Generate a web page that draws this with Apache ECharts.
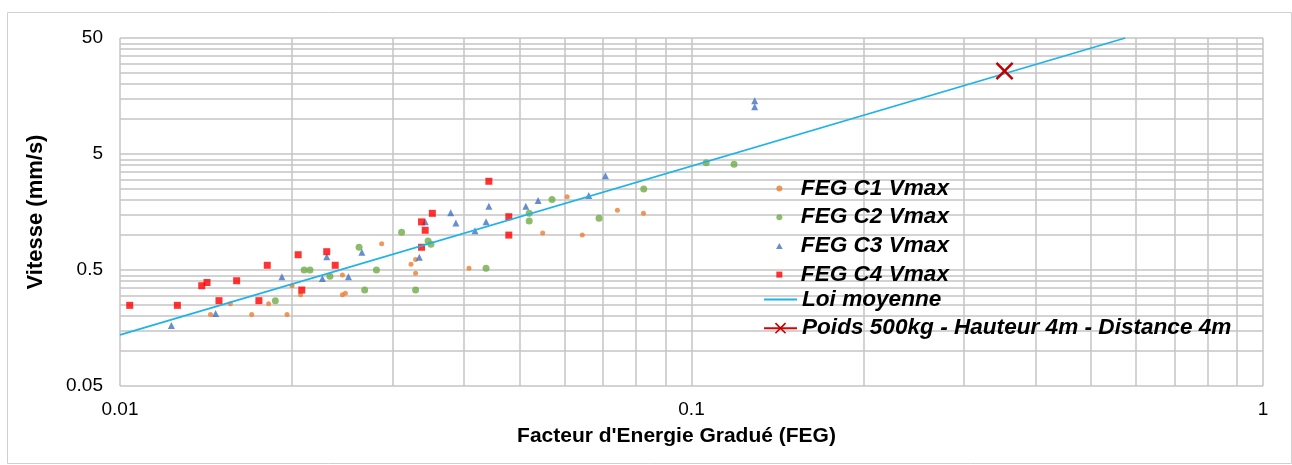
<!DOCTYPE html>
<html><head><meta charset="utf-8">
<script src="https://cdn.jsdelivr.net/npm/echarts@6/dist/echarts.min.js"></script>
<style>html,body{margin:0;padding:0;background:#fff}#c{width:1292px;height:465px}</style>
</head><body><div id="c"></div>
<script>
// ---- data (FEG, Vitesse mm/s) ----
const seriesNames = ['FEG C1 Vmax','FEG C2 Vmax','FEG C3 Vmax','FEG C4 Vmax','Loi moyenne','Poids 500kg - Hauteur 4m - Distance 4m'];
const c1 = [[0.0144,0.207],[0.0156,0.256],[0.0170,0.207],[0.0182,0.256],[0.0196,0.207],[0.0200,0.366],[0.0207,0.306],[0.0245,0.453],[0.0245,0.306],[0.0248,0.315],[0.0287,0.84],[0.0323,0.56],[0.0329,0.616],[0.0329,0.468],[0.0408,0.517],[0.0549,1.04],[0.0606,2.14],[0.0644,1.00],[0.0742,1.64],[0.0824,1.54]];
const c2 = [[0.0187,0.272],[0.0210,0.50],[0.0215,0.50],[0.0233,0.441],[0.0262,0.785],[0.0268,0.336],[0.0281,0.50],[0.0311,1.06],[0.0329,0.336],[0.0346,0.889],[0.0350,0.833],[0.0437,0.517],[0.0520,1.54],[0.0520,1.32],[0.0570,2.03],[0.0689,1.40],[0.0825,2.50],[0.1061,4.21],[0.1187,4.07]];
const c3 = [[0.0123,0.166],[0.0147,0.211],[0.0192,0.437],[0.0226,0.422],[0.0230,0.651],[0.0251,0.437],[0.0265,0.71],[0.0334,0.645],[0.0342,1.30],[0.0379,1.56],[0.0387,1.27],[0.0418,1.09],[0.0437,1.30],[0.0442,1.77],[0.0513,1.77],[0.0539,1.99],[0.0661,2.19],[0.0707,3.25],[0.129,14.4],[0.129,12.8]];
const c4 = [[0.0104,0.248],[0.0126,0.248],[0.0139,0.366],[0.0142,0.39],[0.0149,0.272],[0.0160,0.404],[0.0175,0.272],[0.0181,0.549],[0.0205,0.677],[0.0208,0.336],[0.0230,0.719],[0.0238,0.549],[0.0337,1.30],[0.0342,1.10],[0.0352,1.54],[0.0337,0.785],[0.0442,2.91],[0.0479,1.44],[0.0479,1.00]];
const loiMoyenne = [[0.01,0.138],[0.574,50]];
const poids = [[0.353,26]];
// ---- axes ----
const xTicks = [0.01,0.02,0.03,0.04,0.05,0.06,0.07,0.08,0.09,0.1,0.2,0.3,0.4,0.5,0.6,0.7,0.8,0.9,1];
const xLabels = [0.01,0.1,1];
const yTicks = [0.05,0.1,0.15,0.2,0.25,0.3,0.35,0.4,0.45,0.5,1,1.5,2,2.5,3,3.5,4,4.5,5,10,15,20,25,30,35,40,45,50];
const yLabels = [0.05,0.5,5,50];
const xTitle = "Facteur d'Energie Gradué (FEG)";
const yTitle = 'Vitesse (mm/s)';
const colors = ['#ED7D31','#70AD47','#4472C4','#FF0000','#1FB3EA','#C00000'];

const FONT = "'Liberation Sans', Arial, sans-serif";
const xPath = 'path://M1,0 L5,4 L9,0 L10,1 L6,5 L10,9 L9,10 L5,6 L1,10 L0,9 L4,5 L0,1 Z';
const triPath = 'path://M5,0 L10,9 L0,9 Z';
const sqPath = 'path://M0,0 L10,0 L10,10 L0,10 Z';
const grid = {color:'#C4C4C4', width:1.5};
const legendText = {fontFamily:FONT, fontSize:22.6, fontWeight:'bold', fontStyle:'italic', color:'#000', lineHeight:22};

const chart = echarts.init(document.getElementById('c'), null, {renderer:'canvas'});
chart.setOption({
  animation:false,
  backgroundColor:'#fff',
  graphic:[{type:'rect', left:5, top:10, shape:{width:1284, height:451}, style:{fill:'none', stroke:'#D0D0D0', lineWidth:1}, silent:true}],
  grid:{left:120, top:38, right:29, bottom:79, containLabel:false},
  xAxis:{
    type:'log', logBase:10, min:0.01, max:1,
    name:xTitle, nameLocation:'middle', nameGap:40,
    nameTextStyle:{fontFamily:FONT, fontSize:21, fontWeight:'bold', color:'#000', padding:[0,30,0,0]},
    axisLine:{show:false},
    axisTick:{show:false, customValues:xTicks},
    axisLabel:{customValues:xLabels, fontFamily:FONT, fontSize:19, color:'#000', margin:14, formatter:v=>String(v)},
    splitLine:{show:true, lineStyle:grid}
  },
  yAxis:{
    type:'log', logBase:10, min:0.05, max:50,
    name:yTitle, nameLocation:'middle', nameGap:73,
    nameTextStyle:{fontFamily:FONT, fontSize:22, fontWeight:'bold', color:'#000'},
    axisLine:{show:false},
    axisTick:{show:false, customValues:yTicks},
    axisLabel:{customValues:yLabels, fontFamily:FONT, fontSize:19, color:'#000', margin:17, formatter:v=>String(v)},
    splitLine:{show:true, lineStyle:grid}
  },
  legend:[
    {data:[
       {name:seriesNames[0], icon:'circle'},
       {name:seriesNames[1], icon:'circle'},
       {name:seriesNames[2], icon:triPath},
       {name:seriesNames[3], icon:sqPath}],
     orient:'vertical', left:776, top:177, padding:0, itemWidth:33, itemHeight:6, itemGap:5.7,
     symbolKeepAspect:true, textStyle:legendText, selectedMode:false},
    {data:[{name:seriesNames[4], icon:'path://M0,0 L33,0 L33,2 L0,2 Z', itemStyle:{color:colors[4]}}, seriesNames[5]],
     orient:'vertical', left:763, top:288, padding:0, itemWidth:33, itemHeight:14, itemGap:5.7,
     symbolKeepAspect:true, textStyle:legendText, selectedMode:false}
  ],
  series:[
    {name:seriesNames[0], type:'scatter', data:c1, symbol:'circle', symbolSize:5, itemStyle:{color:colors[0]}},
    {name:seriesNames[1], type:'scatter', data:c2, symbol:'circle', symbolSize:7, itemStyle:{color:colors[1]}},
    {name:seriesNames[2], type:'scatter', data:c3, symbol:'triangle', symbolSize:7, itemStyle:{color:colors[2]}},
    {name:seriesNames[3], type:'scatter', data:c4, symbol:'rect', symbolSize:7, itemStyle:{color:colors[3]}},
    {name:seriesNames[4], type:'line', data:loiMoyenne, symbol:'none', lineStyle:{color:colors[4], width:1.8}, itemStyle:{color:colors[4]}},
    {name:seriesNames[5], type:'line', data:poids, symbol:xPath, symbolSize:18, lineStyle:{color:'#E00000', width:2}, itemStyle:{color:colors[5]}}
  ]
});
</script></body></html>
